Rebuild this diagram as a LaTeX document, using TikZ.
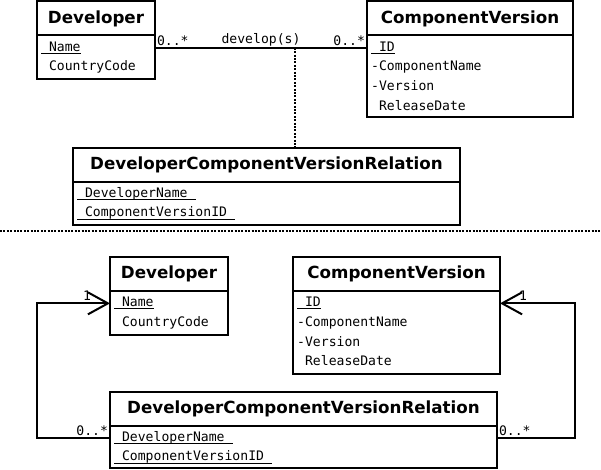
\documentclass[tikz,border=0pt]{standalone}
\usepackage{fontspec}
\newfontfamily\classfont{DejaVu Sans}
\newfontfamily\attrfont{DejaVu Sans Mono}
\usetikzlibrary{positioning,calc,arrows.meta}
\newcommand{\pkattr}[1]{\setbox0\hbox{#1}\rlap{\rule[-2.6pt]{\wd0}{0.9pt}}\box0}
\tikzset{
  classhead/.style={draw, line width=2pt, inner sep=0pt, outer sep=0pt, minimum height=34pt, font=\classfont\bfseries\fontsize{16.7}{19}\selectfont},
  classbody/.style={draw, line width=2pt, inner sep=0pt, outer sep=0pt},
  attr/.style={inner sep=0pt, text height=13pt, text depth=6.3pt, font=\attrfont\fontsize{13.1}{19}\selectfont},
  mult/.style={inner sep=1pt, font=\attrfont\fontsize{13.1}{16}\selectfont},
  assoc/.style={line width=2pt},
  navarrow/.style={line width=2pt, -{Straight Barb[length=20pt, width=22pt, line width=2pt]}},
  link/.style={line width=2pt, dash pattern=on 2pt off 1.4pt},
}
\begin{document}
\begin{tikzpicture}[x=1pt, y=-1pt]
  \useasboundingbox (0,0) rectangle (601,470);
  % association class
  \node[classhead, minimum width=118pt, anchor=north west] (devA) at (37,1.5) {Developer};
  \node[classbody, minimum width=118pt, minimum height=44pt, anchor=north] (devAbody) at (devA.south) {};
  \node[attr, anchor=north west] (devAname) at ($(devAbody.north west)+(4,2.5)$) {\pkattr{~Name}};
  \node[attr, below=0pt of devAname.south west, anchor=north west] (devAcode) {~CountryCode};

  \node[classhead, minimum width=206pt, anchor=north west] (cvA) at (367,1.5) {ComponentVersion};
  \node[classbody, minimum width=206pt, minimum height=82pt, anchor=north] (cvAbody) at (cvA.south) {};
  \node[attr, anchor=north west] (cvAid) at ($(cvAbody.north west)+(4,2.5)$) {\pkattr{~ID}};
  \node[attr, below=0pt of cvAid.south west, anchor=north west] (cvAname) {-ComponentName};
  \node[attr, below=0pt of cvAname.south west, anchor=north west] (cvAversion) {-Version};
  \node[attr, below=0pt of cvAversion.south west, anchor=north west] (cvAdate) {~ReleaseDate};

  \node[classhead, minimum width=387pt, anchor=north west] (relA) at (73,148) {DeveloperComponentVersionRelation};
  \node[classbody, minimum width=387pt, minimum height=43pt, anchor=north] (relAbody) at (relA.south) {};
  \node[attr, anchor=north west] (relAdev) at ($(relAbody.north west)+(4,2)$) {\pkattr{~DeveloperName~}};
  \node[attr, below=0pt of relAdev.south west, anchor=north west] (relAcv) {\pkattr{~ComponentVersionID~}};

  \draw[assoc] (devAbody.east |- devAname)
    -- node[mult, pos=0, anchor=south west] (devAmult) {0..*}
       node[mult, midway, above] (assocname) {develop(s)}
       node[mult, pos=1, anchor=south east] (cvAmult) {0..*}
       (cvAbody.west |- devAname);
  \coordinate (linkA) at ($(devAbody.east |- devAname)!0.66!(cvAbody.west |- devAname)$);
  \draw[link] (linkA) -- (linkA |- relA.north);

  \draw[link] (0,230.5) -- (601,230.5);

  % relation as its own class
  \node[classhead, minimum width=118pt, anchor=north west] (devB) at (110,257) {Developer};
  \node[classbody, minimum width=118pt, minimum height=44pt, anchor=north] (devBbody) at (devB.south) {};
  \node[attr, anchor=north west] (devBname) at ($(devBbody.north west)+(4,2.5)$) {\pkattr{~Name}};
  \node[attr, below=0pt of devBname.south west, anchor=north west] (devBcode) {~CountryCode};

  \node[classhead, minimum width=207pt, anchor=north west] (cvB) at (293,257) {ComponentVersion};
  \node[classbody, minimum width=207pt, minimum height=83pt, anchor=north] (cvBbody) at (cvB.south) {};
  \node[attr, anchor=north west] (cvBid) at ($(cvBbody.north west)+(4,2.5)$) {\pkattr{~ID}};
  \node[attr, below=0pt of cvBid.south west, anchor=north west] (cvBname) {-ComponentName};
  \node[attr, below=0pt of cvBname.south west, anchor=north west] (cvBversion) {-Version};
  \node[attr, below=0pt of cvBversion.south west, anchor=north west] (cvBdate) {~ReleaseDate};

  \node[classhead, minimum width=387pt, anchor=north west] (relB) at (110,392) {DeveloperComponentVersionRelation};
  \node[classbody, minimum width=387pt, minimum height=42pt, anchor=north] (relBbody) at (relB.south) {};
  \node[attr, anchor=north west] (relBdev) at ($(relBbody.north west)+(4,2)$) {\pkattr{~DeveloperName~}};
  \node[attr, below=0pt of relBdev.south west, anchor=north west] (relBcv) {\pkattr{~ComponentVersionID~}};

  \coordinate (railL) at (37,0);
  \coordinate (railR) at (575,0);
  \draw[navarrow] (relBbody.west |- relBdev)
    -- node[mult, pos=0, anchor=south east] (relBmultL) {0..*} (railL |- relBdev)
    -- (railL |- devBname)
    -- node[mult, pos=1, anchor=south east, xshift=-17pt, yshift=1pt] (devBmult) {1} (devBbody.west |- devBname);
  \draw[navarrow] (relBbody.east |- relBdev)
    -- node[mult, pos=0, anchor=south west] (relBmultR) {0..*} (railR |- relBdev)
    -- (railR |- cvBid)
    -- node[mult, pos=1, anchor=south west, xshift=17pt, yshift=1pt] (cvBmult) {1} (cvBbody.east |- cvBid);
\end{tikzpicture}
\end{document}
